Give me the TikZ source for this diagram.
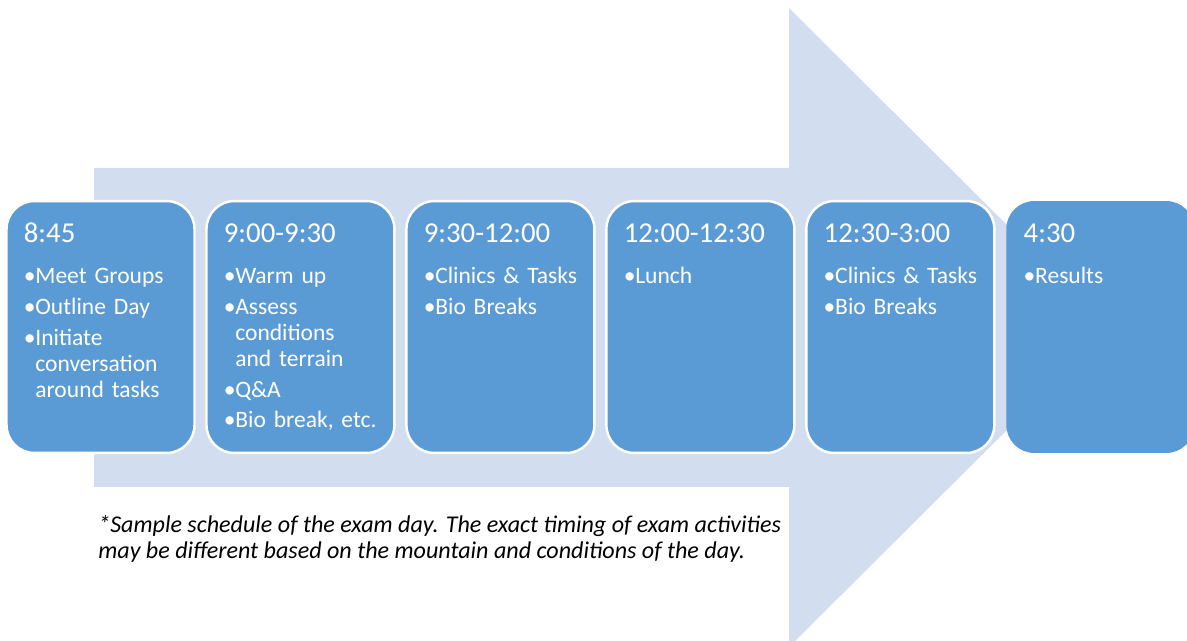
\documentclass[tikz,border=0pt]{standalone}
\usepackage{fontspec}
\setmainfont{Carlito}
\usetikzlibrary{positioning}

\definecolor{arrowfill}{HTML}{D2DEEF}
\definecolor{slotfill}{HTML}{5B9BD5}

% title line and bullet lines of one time slot
\newcommand{\slothead}[1]{\noindent\rule{0pt}{12pt}{\fontsize{16.4}{18}\selectfont #1}\par\vspace{5.8pt}}
\newcommand{\bul}[1]{\par\vspace{2.9pt}\hangindent=0.23cm\hangafter=1\noindent\makebox[0.23cm][l]{\textbullet}#1}

\begin{document}
\begin{tikzpicture}[
            x = 0.02cm, y = -0.02cm, % one unit = one pixel
            node distance = 0.24cm, % gap between slots
            slot/.style = {
                rectangle,
                rounded corners = 0.56cm,
                fill = slotfill,
                draw = white,
                line width = 1.4pt,
                minimum width = 3.76cm,
                minimum height = 5.04cm,
                outer sep = 0pt
            },
            slottext/.style = {
                anchor = north west,
                inner sep = 0pt,
                text width = 3.5cm,
                text = white,
                font = \fontsize{13.4}{14.7}\selectfont
            },
            notetext/.style = {
                anchor = base west,
                inner sep = 0pt,
                font = \itshape\fontsize{13.7}{16.4}\selectfont
            }
        ]

        \clip (0,0) rectangle (1187,641);

        % big background arrow
        \fill[arrowfill] (94,168) -- (789,168) -- (789,8) -- (1110,327.5)
            -- (789,647) -- (789,487) -- (94,487) -- cycle;

        \node[slot] (s1) at (100.5,327) {};
        \node[slot] (s2) [right=of s1] {};
        \node[slot] (s3) [right=of s2] {};
        \node[slot] (s4) [right=of s3] {};
        \node[slot] (s5) [right=of s4] {};
        \node[slot, draw=none] (s6) [right=of s5] {};

        \node[slottext] (t1) at ([xshift=0.34cm,yshift=-0.40cm]s1.north west)
            {\slothead{8:45}\bul{Meet Groups}\bul{Outline Day}\bul{Initiate\newline conversation\newline around tasks}\par};
        \node[slottext] (t2) at ([xshift=0.34cm,yshift=-0.40cm]s2.north west)
            {\slothead{9:00-9:30}\bul{Warm up}\bul{Assess\newline conditions\newline and terrain}\bul{Q\&A}\bul{Bio break, etc.}\par};
        \node[slottext] (t3) at ([xshift=0.34cm,yshift=-0.40cm]s3.north west)
            {\slothead{9:30-12:00}\bul{Clinics \& Tasks}\bul{Bio Breaks}\par};
        \node[slottext] (t4) at ([xshift=0.34cm,yshift=-0.40cm]s4.north west)
            {\slothead{12:00-12:30}\bul{Lunch}\par};
        \node[slottext] (t5) at ([xshift=0.34cm,yshift=-0.40cm]s5.north west)
            {\slothead{12:30-3:00}\bul{Clinics \& Tasks}\bul{Bio Breaks}\par};
        \node[slottext] (t6) at ([xshift=0.34cm,yshift=-0.40cm]s6.north west)
            {\slothead{4:30}\bul{Results}\par};

        \node[notetext] (note1) at (98,533)
            {*Sample schedule of the exam day. The exact timing of exam activities};
        \node[notetext] (note2) at (98,559)
            {may be different based on the mountain and conditions of the day.};

  \end{tikzpicture}
\end{document}
